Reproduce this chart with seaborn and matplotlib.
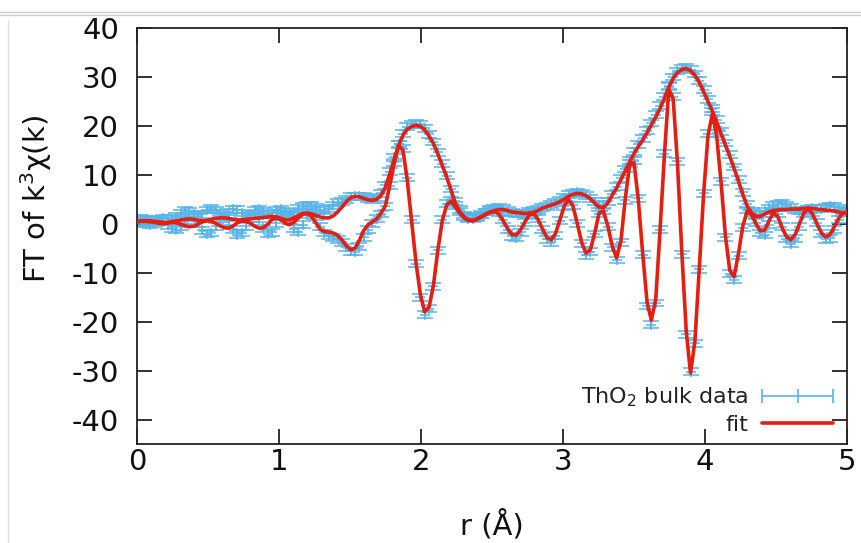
import numpy as np
import pandas as pd
import matplotlib
matplotlib.use("Agg")
import matplotlib.pyplot as plt
import seaborn as sns
from matplotlib.lines import Line2D

# r grid (Angstrom), FFT spacing of the data
r = [0.000, 0.031, 0.061, 0.092, 0.123, 0.154, 0.184, 0.215, 0.246, 0.276,
     0.307, 0.338, 0.368, 0.399, 0.430, 0.461, 0.491, 0.522, 0.553, 0.583,
     0.614, 0.645, 0.675, 0.706, 0.737, 0.768, 0.798, 0.829, 0.860, 0.890,
     0.921, 0.952, 0.982, 1.013, 1.044, 1.075, 1.105, 1.136, 1.167, 1.197,
     1.228, 1.259, 1.289, 1.320, 1.351, 1.382, 1.412, 1.443, 1.474, 1.504,
     1.535, 1.566, 1.596, 1.627, 1.658, 1.689, 1.719, 1.750, 1.781, 1.811,
     1.842, 1.873, 1.903, 1.934, 1.965, 1.996, 2.026, 2.057, 2.088, 2.118,
     2.149, 2.180, 2.210, 2.241, 2.272, 2.303, 2.333, 2.364, 2.395, 2.425,
     2.456, 2.487, 2.517, 2.548, 2.579, 2.610, 2.640, 2.671, 2.702, 2.732,
     2.763, 2.794, 2.824, 2.855, 2.886, 2.917, 2.947, 2.978, 3.009, 3.039,
     3.070, 3.101, 3.131, 3.162, 3.193, 3.224, 3.254, 3.285, 3.316, 3.346,
     3.377, 3.408, 3.438, 3.469, 3.500, 3.530, 3.561, 3.592, 3.622, 3.653,
     3.684, 3.714, 3.745, 3.776, 3.806, 3.837, 3.868, 3.898, 3.929, 3.960,
     3.990, 4.021, 4.052, 4.082, 4.113, 4.144, 4.174, 4.205, 4.236, 4.266,
     4.297, 4.328, 4.359, 4.389, 4.420, 4.451, 4.481, 4.512, 4.543, 4.573,
     4.604, 4.635, 4.665, 4.696, 4.727, 4.757, 4.788, 4.819, 4.849, 4.880,
     4.911, 4.941, 4.972, 5.003]

# measured |chi(R)|
mag_dat = [0.8, 1.0, 0.9, 0.7, 0.6, 0.8, 1.1, 1.0, 0.9, 1.4,
           2.2, 2.7, 2.6, 2.0, 1.5, 1.9, 2.8, 3.1, 2.8, 2.1,
           1.8, 2.4, 3.0, 2.9, 2.2, 1.6, 2.0, 2.8, 3.0, 2.6,
           1.9, 2.1, 2.8, 3.0, 2.5, 1.9, 2.3, 3.2, 3.6, 3.7,
           3.7, 3.4, 2.9, 2.7, 3.1, 3.8, 4.3, 4.5, 4.9, 5.5,
           5.6, 5.6, 5.5, 5.2, 5.0, 5.3, 6.2, 7.9, 10.6, 13.6,
           16.3, 18.4, 19.8, 20.3, 20.4, 20.3, 19.5, 18.3, 16.7, 14.6,
           12.3, 9.8, 7.1, 4.6, 2.9, 1.8, 1.3, 1.2, 1.4, 1.8,
           2.4, 2.9, 3.2, 3.3, 3.1, 2.7, 2.3, 2.1, 2.0, 2.2,
           2.5, 2.7, 3.0, 3.3, 3.6, 3.9, 4.3, 4.8, 5.3, 5.9,
           6.3, 6.4, 6.2, 5.8, 5.2, 4.5, 3.9, 3.8, 4.6, 6.0,
           7.6, 9.3, 11.2, 13.0, 14.7, 16.2, 17.5, 19.0, 20.6, 22.3,
           24.1, 26.0, 28.2, 30.0, 31.2, 31.8, 31.9, 31.5, 30.6, 29.2,
           27.4, 25.4, 23.5, 21.3, 18.9, 16.5, 14.1, 11.6, 9.0, 6.4,
           4.0, 2.6, 1.9, 2.0, 2.6, 3.2, 3.7, 4.0, 4.1, 3.8,
           3.3, 2.8, 2.6, 2.7, 3.0, 3.2, 3.1, 3.1, 3.4, 3.6,
           3.5, 3.1, 2.7, 2.4]

# measured Re[chi(R)]
re_dat = [0.5, 0.3, 0.0, -0.2, 0.1, 0.5, 0.4, -0.3, -0.9, -1.2,
          -0.6, 0.6, 1.5, 1.3, 0.1, -1.3, -2.1, -1.9, -0.5, 1.0,
          1.5, 0.5, -1.1, -2.2, -1.9, -0.5, 1.1, 1.9, 1.0, -0.9,
          -2.0, -1.7, 0.1, 1.7, 2.0, 0.7, -1.0, -1.6, -0.2, 1.8,
          2.7, 1.4, -0.6, -1.9, -2.5, -2.8, -3.2, -3.8, -4.8, -5.6,
          -5.7, -4.6, -2.8, -1.2, 0.1, 1.0, 2.0, 3.6, 7.8, 12.6,
          16.2, 15.3, 9.4, 0.8, -8.2, -15.0, -18.6, -17.4, -12.8, -5.4,
          0.8, 4.1, 4.8, 3.8, 2.5, 1.5, 1.0, 1.0, 1.3, 1.9,
          2.4, 2.8, 2.9, 2.3, 0.8, -1.2, -2.6, -2.9, -1.7, 0.2,
          1.9, 2.4, 1.0, -1.2, -3.2, -3.8, -2.4, 0.6, 3.6, 5.2,
          3.8, 0.1, -4.0, -6.4, -5.7, -2.1, 2.0, 2.6, -0.6, -4.8,
          -7.4, -3.8, 4.8, 12.4, 12.9, 5.2, -6.3, -16.8, -20.6, -16.2,
          -1.2, 14.3, 28.0, 26.0, 12.8, -6.2, -22.6, -30.2, -24.4, -9.3,
          6.2, 18.4, 22.9, 18.5, 8.7, -2.8, -10.2, -11.4, -6.5, -0.8,
          2.8, 2.2, 0.2, -1.9, -2.3, -0.2, 2.1, 2.0, -0.6, -3.1,
          -4.1, -3.0, -0.6, 2.0, 3.0, 2.2, 0.2, -2.0, -3.2, -3.0,
          -1.2, 0.8, 2.2, 2.5]

# uncertainty of the data
err = 0.7

# fitted |chi(R)|
mag_fit = [0.5, 0.6, 0.6, 0.6, 0.5, 0.4, 0.3, 0.3, 0.4, 0.6,
           0.8, 0.9, 1.0, 0.9, 0.7, 0.6, 0.7, 0.9, 1.1, 1.2,
           1.2, 1.1, 0.9, 0.8, 0.8, 0.9, 1.0, 1.1, 1.2, 1.3,
           1.4, 1.5, 1.4, 1.1, 0.8, 0.8, 1.2, 1.7, 2.1, 2.2,
           2.0, 1.7, 1.4, 1.2, 1.2, 1.6, 2.4, 3.4, 4.5, 5.3,
           5.6, 5.5, 5.2, 4.9, 4.8, 5.0, 5.8, 7.5, 10.3, 13.2,
           16.0, 18.1, 19.3, 19.9, 20.1, 19.9, 19.2, 17.9, 16.4, 14.3,
           12.0, 9.6, 7.0, 4.3, 2.5, 1.4, 0.8, 0.7, 1.0, 1.5,
           2.0, 2.4, 2.7, 2.9, 2.9, 2.7, 2.4, 2.3, 2.2, 2.1,
           2.2, 2.3, 2.7, 3.2, 3.5, 3.8, 4.1, 4.5, 5.0, 5.6,
           6.0, 6.2, 6.1, 5.7, 5.1, 4.2, 3.4, 3.3, 4.3, 5.8,
           7.3, 9.0, 10.8, 12.6, 14.3, 15.8, 17.1, 18.6, 20.2, 21.8,
           23.6, 25.6, 27.9, 29.7, 30.9, 31.5, 31.7, 31.3, 30.3, 28.9,
           27.0, 25.0, 23.0, 20.8, 18.4, 16.1, 13.8, 11.3, 8.7, 6.0,
           3.6, 2.2, 1.5, 1.5, 2.0, 2.4, 2.7, 2.8, 2.9, 2.9,
           3.0, 3.0, 3.0, 3.1, 3.2, 3.1, 3.0, 2.9, 2.8, 2.7,
           2.6, 2.4, 2.2, 2.1]

# fitted Re[chi(R)]
re_fit = [0.4, 0.5, 0.5, 0.4, 0.3, 0.1, 0.0, 0.1, 0.3, 0.2,
          -0.1, -0.4, -0.6, -0.5, -0.1, 0.4, 0.6, 0.5, 0.1, -0.4,
          -0.8, -0.9, -0.5, 0.2, 0.6, 0.5, 0.1, -0.5, -0.9, -0.8,
          -0.1, 0.9, 1.2, 0.8, 0.1, -0.2, 0.3, 1.2, 1.9, 2.1,
          1.5, 0.2, -1.1, -1.6, -1.7, -1.9, -2.4, -3.3, -4.5, -5.3,
          -5.0, -3.4, -1.4, -0.2, 0.4, 1.0, 2.2, 3.7, 8.0, 12.3,
          16.0, 15.0, 9.0, 0.5, -8.0, -14.5, -18.0, -17.0, -12.5, -5.5,
          0.5, 3.8, 4.6, 3.5, 2.2, 1.2, 0.7, 0.6, 0.9, 1.4,
          1.9, 2.3, 2.5, 2.0, 0.6, -1.0, -2.2, -2.3, -1.2, 0.4,
          1.8, 2.1, 0.9, -1.0, -2.8, -3.3, -2.0, 0.8, 3.6, 5.0,
          3.6, 0.0, -3.8, -6.0, -5.3, -1.8, 2.2, 2.6, -0.5, -4.5,
          -7.0, -3.5, 5.0, 12.0, 12.5, 5.0, -6.0, -16.0, -19.7, -15.5,
          -1.0, 14.0, 27.5, 25.5, 12.5, -6.0, -22.0, -30.5, -24.0, -9.0,
          6.0, 18.0, 22.5, 18.0, 8.5, -2.5, -9.5, -10.8, -6.0, -0.5,
          2.6, 1.8, 0.0, -1.4, -1.3, 0.6, 2.3, 1.5, -0.8, -2.6,
          -3.3, -2.2, 0.0, 2.2, 3.1, 2.0, 0.0, -1.8, -2.7, -2.2,
          -0.6, 1.1, 2.2, 2.4]

x_ticks = [0, 1, 2, 3, 4, 5]
y_ticks = [-40, -30, -20, -10, 0, 10, 20, 30, 40]
legend_labels = ["ThO$_2$ bulk data", "fit"]
x_label = "r (\u00c5)"
y_label = "FT of k$^3$\u03c7(k)"

BLUE = "#56B4E9"
RED = "#E51E10"
FS_TICK = 21
FS_LAB = 21
FS_LEG = 16

sns.set_theme(style="white")
plt.rcParams["font.family"] = ["DejaVu Sans"]
plt.rcParams["mathtext.fontset"] = "dejavusans"

W, H = 862, 543
fig = plt.figure(figsize=(W / 100, H / 100), dpi=100)
fig.patch.set_facecolor("white")
ax = fig.add_axes([137 / W, 1 - 444 / H, 710 / W, 416 / H])

# data with error bars
for yy in (mag_dat, re_dat):
    ax.errorbar(r, yy, yerr=err, fmt="+", color=BLUE, ecolor=BLUE,
                ms=7, mew=1.1, elinewidth=1.1, capsize=6, capthick=1.3,
                zorder=2, clip_on=True)

# fit lines
df_fit = pd.DataFrame({"r": r, "mag": mag_fit, "re": re_fit})
sns.lineplot(data=df_fit, x="r", y="mag", color=RED, lw=2.6, sort=False,
             ax=ax, zorder=3)
sns.lineplot(data=df_fit, x="r", y="re", color=RED, lw=2.6, sort=False,
             ax=ax, zorder=3)

ax.set_xlim(0, 5)
ax.set_ylim(-45, 40)
ax.set_xticks(x_ticks)
ax.set_yticks(y_ticks)
ax.set_xticklabels([str(t) for t in x_ticks])
ax.set_yticklabels([str(t) for t in y_ticks])

for s in ax.spines.values():
    s.set_visible(True)
    s.set_color("#222222")
    s.set_linewidth(1.3)

ax.tick_params(axis="both", which="major", direction="in", length=11,
               width=1.3, color="#222222", labelsize=FS_TICK,
               labelcolor="#111111",
               top=True, right=True, bottom=True, left=True)
ax.tick_params(axis="x", pad=3)
ax.tick_params(axis="y", pad=13)

ax.set_xlabel(x_label, fontsize=FS_LAB, color="#111111")
ax.set_ylabel(y_label, fontsize=FS_LAB, color="#111111")
ax.xaxis.set_label_coords(0.5, -0.195)
ax.yaxis.set_label_coords(-0.142, 0.59)
ax.yaxis.label.set_verticalalignment("center")
ax.xaxis.label.set_verticalalignment("center")

h_data = Line2D([], [], color=BLUE, lw=1.2, marker="|", ms=10, mew=1.2)
h_fit = Line2D([], [], color=RED, lw=2.6)
leg = ax.legend([h_data, h_fit], legend_labels, loc="lower right",
                bbox_to_anchor=(0.990, 0.022), frameon=False, markerfirst=False,
                numpoints=3, handlelength=3.8, handletextpad=0.33,
                labelspacing=0.25, borderpad=0, borderaxespad=0,
                fontsize=FS_LEG)
for t in leg.get_texts():
    t.set_color("#222222")

# screenshot frame lines
fig.add_artist(Line2D([0, 1], [1 - 12 / H, 1 - 12 / H], color="#cccccc",
                      lw=1.0, transform=fig.transFigure))
fig.add_artist(Line2D([0, 1], [1 - 15 / H, 1 - 15 / H], color="#cccccc",
                      lw=1.0, transform=fig.transFigure))
fig.add_artist(Line2D([8 / W, 8 / W], [0, 1 - 20 / H], color="#e0e0e0",
                      lw=1.0, transform=fig.transFigure))

fig.savefig("out.png", dpi=100, facecolor="white")
